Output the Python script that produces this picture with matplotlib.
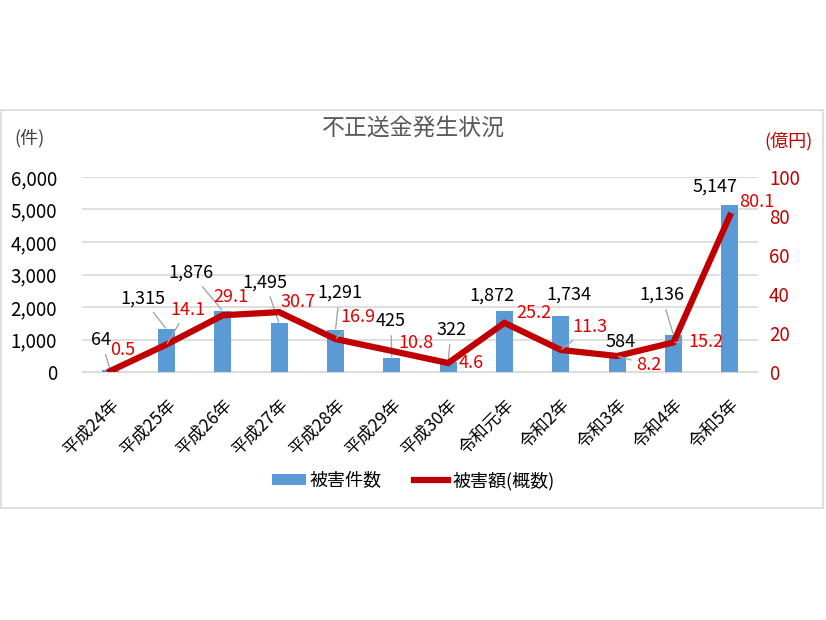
import matplotlib.pyplot as plt
from matplotlib.patches import Rectangle

plt.rcParams['font.family'] = ['Noto Sans CJK JP', 'DejaVu Sans']

years = ['平成24年', '平成25年', '平成26年', '平成27年', '平成28年', '平成29年',
         '平成30年', '令和元年', '令和2年', '令和3年', '令和4年', '令和5年']
cases = [64, 1315, 1876, 1495, 1291, 425, 322, 1872, 1734, 584, 1136, 5147]
amount = [0.5, 14.1, 29.1, 30.7, 16.9, 10.8, 4.6, 25.2, 11.3, 8.2, 15.2, 80.1]

# label offsets in pixels (dx, dy up) and whether a leader line is drawn
case_off = [(-9, 30), (-24, 31), (-32, 38), (-14, 41), (4, 37), (-1, 37),
            (3, 32), (-13, 16), (8, 21), (3, 11), (-12, 40), (-15, 18)]
case_lead = [True, True, True, True, True, True, True, False, False, False, True, False]
amt_off = [(13, 21), (21, 35), (8, 18), (19, 10), (22, 22), (24, 8),
           (23, 0), (29, 10), (29, 23), (32, -9), (32, 0), (27, 14)]
amt_lead = [False, True, False, False, True, False, False, False, True, True, True, False]

W, H = 826, 620
fig = plt.figure(figsize=(W / 100, H / 100), dpi=100)
fig.patches.append(Rectangle((1 / W, 1 - 508 / H), 822 / W, 398 / H, transform=fig.transFigure,
                             fill=False, edgecolor='#D9D9D9', lw=1.2))

ax = fig.add_axes([82 / W, 1 - 372 / H, 676 / W, 195 / H])
ax2 = ax.twinx()
x = list(range(len(years)))

ax.bar(x, cases, width=0.3, color='#5B9BD5', zorder=2, label='被害件数')
ax2.plot(x, amount, color='#C00000', lw=4.5, solid_joinstyle='miter', zorder=3, label='被害額(概数)')

ax.set_ylim(0, 6000)
ax2.set_ylim(0, 100)
ax.set_xlim(-0.5, len(years) - 0.5)
ax.set_yticks(range(0, 6001, 1000))
ax.set_yticklabels(['{:,}'.format(v) for v in range(0, 6001, 1000)])
ax2.set_yticks(range(0, 101, 20))
ax.grid(axis='y', color='#D9D9D9', lw=1.2, zorder=0)
ax.set_axisbelow(True)
for a in (ax, ax2):
    for s in a.spines.values():
        s.set_visible(False)
ax.spines['bottom'].set_visible(True)
ax.spines['bottom'].set_color('#D9D9D9')
ax.tick_params(axis='y', length=0, labelsize=13.5, pad=18)
ax2.tick_params(axis='y', length=0, labelsize=13.5, labelcolor='#C00000', pad=8)
ax.set_xticks(x)
ax.set_xticklabels(years, rotation=45, ha='right', rotation_mode='anchor', fontsize=12.5)
ax.tick_params(axis='x', length=0, pad=17)

for i in x:
    ax.annotate('{:,}'.format(cases[i]), (i, cases[i]), xytext=case_off[i],
                textcoords='offset pixels', ha='center', va='center', fontsize=13,
                color='black', zorder=5,
                arrowprops=dict(arrowstyle='-', color='#A6A6A6', lw=1,
                                shrinkA=2, shrinkB=1) if case_lead[i] else None)
    ax2.annotate('{}'.format(amount[i]), (i, amount[i]), xytext=amt_off[i],
                 textcoords='offset pixels', ha='center', va='center', fontsize=13,
                 color='#E00000', zorder=5,
                 arrowprops=dict(arrowstyle='-', color='#A6A6A6', lw=1,
                                 shrinkA=2, shrinkB=1) if amt_lead[i] else None)

fig.text(413 / W, 1 - 128 / H, '不正送金発生状況', ha='center', va='center', fontsize=16.5, color='#595959')
fig.text(30 / W, 1 - 138 / H, '(件)', ha='center', va='center', fontsize=13, color='#404040')
fig.text(788 / W, 1 - 141 / H, '(億円)', ha='center', va='center', fontsize=13, color='#C00000')

h1, l1 = ax.get_legend_handles_labels()
h2, l2 = ax2.get_legend_handles_labels()
fig.legend(h1 + h2, l1 + l2, loc='center', bbox_to_anchor=(0.5, 1 - 481 / H), ncol=2,
           frameon=False, fontsize=13, handlelength=1.9, handleheight=0.55,
           handletextpad=0.2, columnspacing=1.8)

fig.savefig('out.png', dpi=100)
